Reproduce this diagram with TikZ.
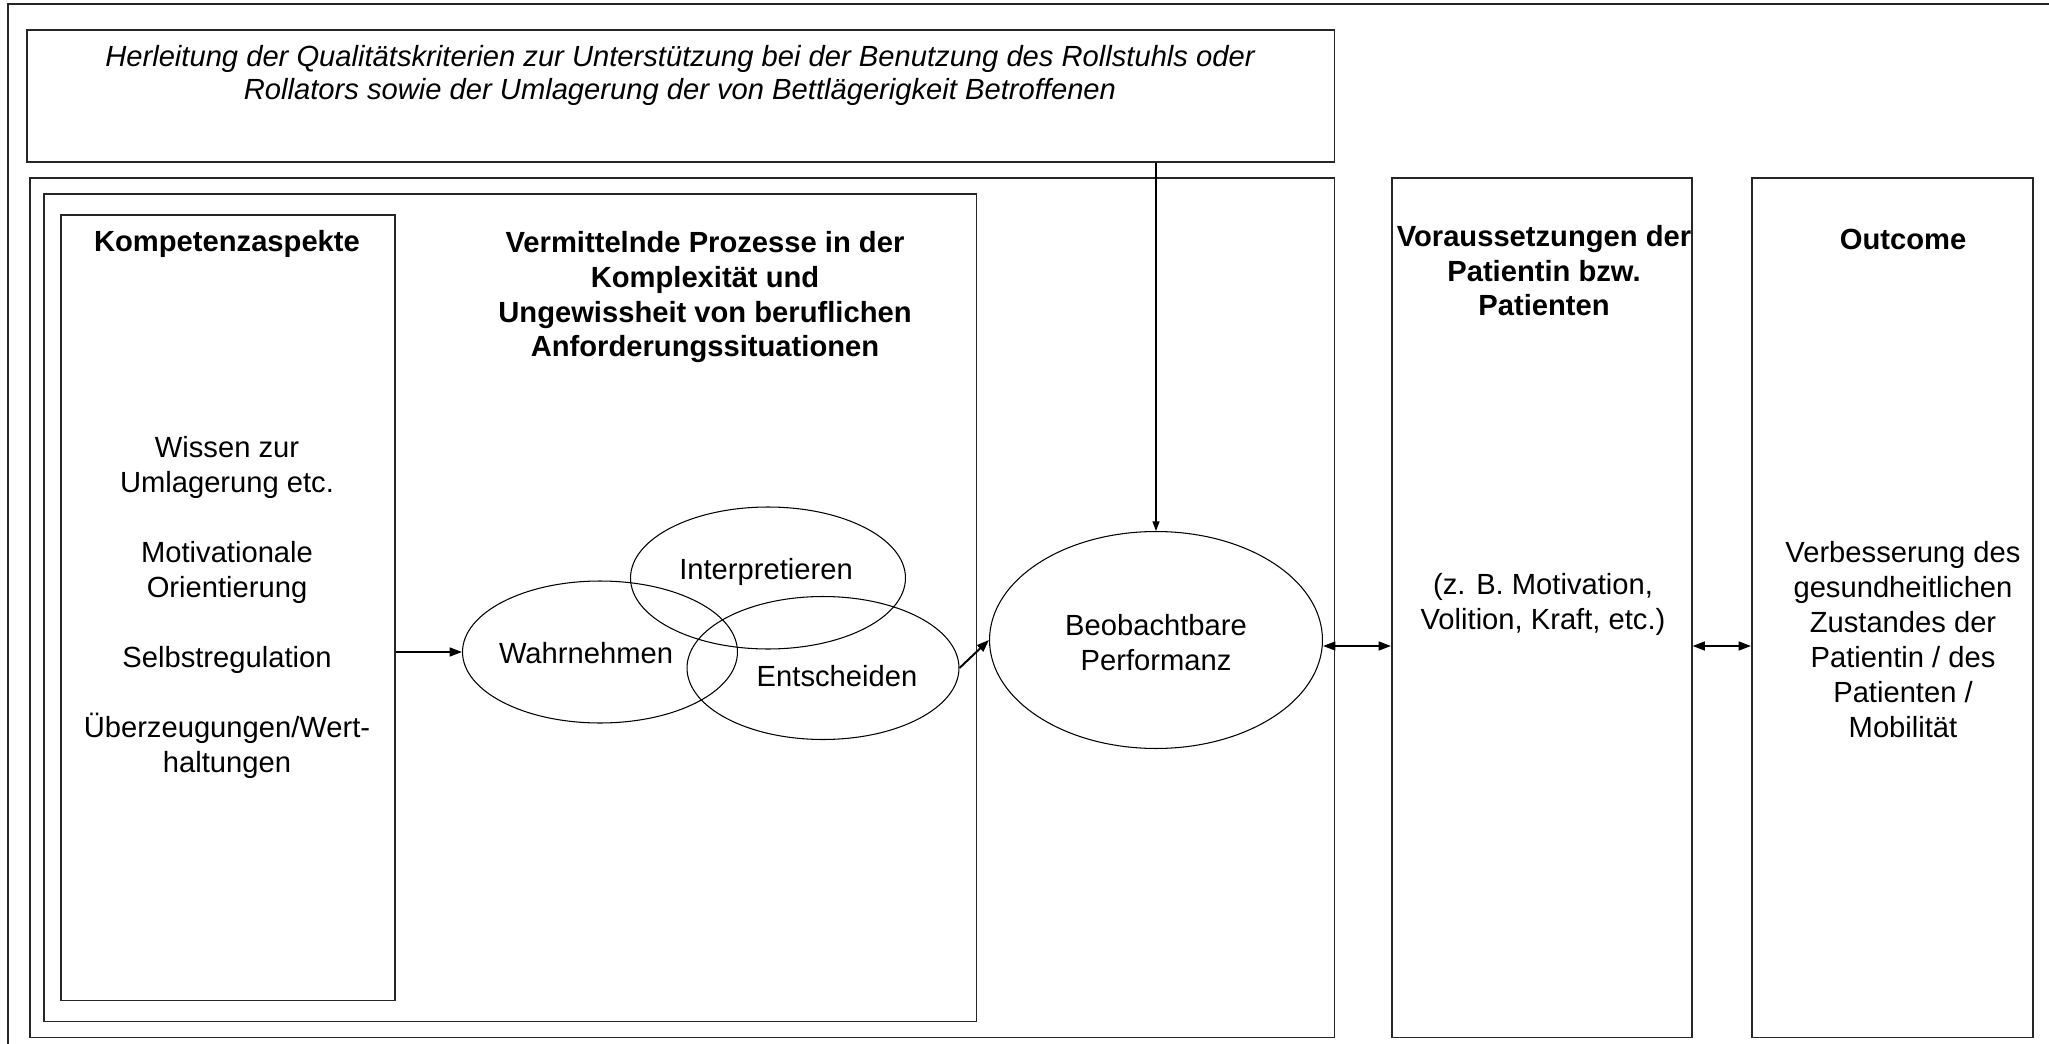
\documentclass[tikz,border=0pt]{standalone}
\usepackage{fontspec}
\setmainfont{Liberation Sans}
\usetikzlibrary{arrows.meta}
\usetikzlibrary{shapes.geometric}

\tikzset{
  frame/.style={draw=black!85, line width=0.9pt, anchor=north west, inner sep=0pt},
  proc/.style={draw, ellipse, line width=0.6pt, inner sep=0pt},
  txt/.style={anchor=base, align=center, inner sep=0pt, font=\fontsize{16.6}{19.9}\selectfont},
  head/.style={txt, font=\fontsize{16.6}{19.9}\selectfont\bfseries},
  arr/.style={line width=1.1pt, -{Triangle[length=7pt,width=5pt]}},
  dbl/.style={line width=1.1pt, {Triangle[length=7pt,width=5pt]}-{Triangle[length=7pt,width=5pt]}},
}

\begin{document}
\begin{tikzpicture}[x=0.02cm, y=-0.02cm]
\useasboundingbox (0,0) rectangle (2049,1044);
\draw[black!85, line width=0.9pt] (8,4) rectangle (2060,1060);

% boxes
\node[frame, minimum width=26.16cm, minimum height=2.64cm] (top) at (26,29) {};
\node[frame, minimum width=26.1cm, minimum height=17.2cm] (cont) at (29,177) {};
\node[frame, minimum width=18.66cm, minimum height=16.56cm] (inner) at (43,193) {};
\node[frame, minimum width=6.68cm, minimum height=15.72cm] (komp) at (60,214) {};
\node[frame, minimum width=6cm, minimum height=17.2cm] (vor) at (1391,177) {};
\node[frame, minimum width=5.62cm, minimum height=17.2cm] (out) at (1751,177) {};

% texts in the boxes (base = last line)
\node[txt, font=\fontsize{16.6}{18.8}\selectfont\itshape] (topT) at (680,100)
  {Herleitung der Qualitätskriterien zur Unterstützung bei der Benutzung des Rollstuhls oder\\
   Rollators sowie der Umlagerung der von Bettlägerigkeit Betroffenen};
\node[head] (kompT) at (227,252) {Kompetenzaspekte};
\node[txt] (kompL) at (227,772) {Wissen zur\\Umlagerung etc.\\[0.7cm]Motivationale\\Orientierung\\[0.7cm]Selbstregulation\\[0.7cm]Überzeugungen/Wert-\\haltungen};
\node[head] (innerT) at (705,357) {Vermittelnde Prozesse in der\\Komplexität und\\Ungewissheit von beruflichen\\Anforderungssituationen};
\node[head] (vorT) at (1544,316) {Voraussetzungen der\\Patientin bzw.\\Patienten};
\node[txt] (vorL) at (1543,629) {(z. B. Motivation,\\Volition, Kraft, etc.)};
\node[head] (outT) at (1903,250) {Outcome};
\node[txt] (outL) at (1903,737) {Verbesserung des\\gesundheitlichen\\Zustandes der\\Patientin / des\\Patienten /\\Mobilität};

% processes
\node[proc, minimum width=5.5cm, minimum height=2.84cm] (wahr) at (600,652) {};
\node[proc, minimum width=5.5cm, minimum height=2.84cm] (interp) at (768,578) {};
\node[proc, minimum width=5.44cm, minimum height=2.86cm] (ent) at (823,668) {};
\node[proc, minimum width=6.66cm, minimum height=4.34cm] (perf) at (1156,640) {};
\node[txt] (wahrT) at (586,663) {Wahrnehmen};
\node[txt] (interpT) at (766,579) {Interpretieren};
\node[txt] (entT) at (837,686) {Entscheiden};
\node[txt] (perfT) at (1156,670) {Beobachtbare\\Performanz};

% arrows
\coordinate (link) at (0,646);
\draw[arr] (komp.east |- wahr.west) -- (wahr.west);
\draw[arr] (ent.east) -- (perf.west);
\draw[line width=0.7pt, -{Triangle[length=5.5pt,width=4pt]}] (top.south -| perf.north) -- (perf.north);
\draw[dbl] (perf.east |- link) -- (vor.west |- link);
\draw[dbl] (vor.east |- link) -- (out.west |- link);
\end{tikzpicture}
\end{document}
